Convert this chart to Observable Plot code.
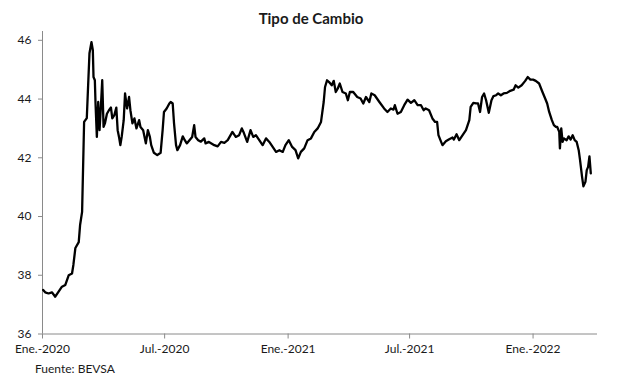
<!DOCTYPE html>
<html><head><meta charset="utf-8">
<script src="https://cdn.jsdelivr.net/npm/d3@7"></script>
<script src="https://cdn.jsdelivr.net/npm/@observablehq/plot@0.6"></script>
<style>
body{margin:0;background:#fff;}
#wrap{position:relative;width:617px;height:384px;font-family:Lato,sans-serif;color:#1a1a1a;}
#chart{position:absolute;left:0;top:0;}
#title{position:absolute;left:0;width:622px;top:9px;text-align:center;font-weight:bold;font-size:15px;}
#caption{position:absolute;left:35px;top:361px;font-size:12px;}
</style></head><body>
<div id="wrap"><div id="chart"></div><div id="title">Tipo de Cambio</div><div id="caption">Fuente: BEVSA</div></div>
<script>
const fechas = ["2020-01-02","2020-01-05","2020-01-10","2020-01-15","2020-01-20","2020-01-25","2020-01-30","2020-02-04","2020-02-09","2020-02-14","2020-02-16","2020-02-19","2020-02-24","2020-02-26","2020-02-29",
"2020-03-03","2020-03-07","2020-03-09","2020-03-11","2020-03-14","2020-03-16","2020-03-17","2020-03-19","2020-03-20","2020-03-22","2020-03-24","2020-03-26","2020-03-28","2020-03-30",
"2020-04-01","2020-04-03","2020-04-06","2020-04-09","2020-04-12","2020-04-14","2020-04-17","2020-04-20","2020-04-22","2020-04-24","2020-04-26","2020-04-28",
"2020-05-01","2020-05-03","2020-05-06","2020-05-09","2020-05-11","2020-05-14","2020-05-17","2020-05-20","2020-05-24","2020-05-26","2020-05-30",
"2020-06-03","2020-06-06","2020-06-09","2020-06-11","2020-06-15","2020-06-20","2020-06-25","2020-06-28","2020-06-30",
"2020-07-04","2020-07-08","2020-07-10","2020-07-13","2020-07-15","2020-07-18","2020-07-20","2020-07-24","2020-07-28","2020-07-31",
"2020-08-03","2020-08-07","2020-08-11","2020-08-14","2020-08-16","2020-08-20","2020-08-24","2020-08-29","2020-08-31",
"2020-09-05","2020-09-13","2020-09-18","2020-09-23","2020-09-28",
"2020-10-03","2020-10-10","2020-10-15","2020-10-20","2020-10-24","2020-10-27",
"2020-11-01","2020-11-06","2020-11-10","2020-11-14","2020-11-19","2020-11-24","2020-11-29",
"2020-12-04","2020-12-09","2020-12-14","2020-12-19","2020-12-24","2020-12-28",
"2021-01-02","2021-01-07","2021-01-12","2021-01-16","2021-01-20","2021-01-25","2021-01-30",
"2021-02-04","2021-02-09","2021-02-14","2021-02-19","2021-02-23","2021-02-25","2021-02-28",
"2021-03-03","2021-03-07","2021-03-10","2021-03-13","2021-03-16","2021-03-19","2021-03-23","2021-03-28","2021-03-31",
"2021-04-03","2021-04-08","2021-04-14","2021-04-19","2021-04-23","2021-04-27",
"2021-05-02","2021-05-05","2021-05-10","2021-05-17","2021-05-24","2021-05-29",
"2021-06-03","2021-06-07","2021-06-09","2021-06-13","2021-06-18","2021-06-23","2021-06-28",
"2021-07-03","2021-07-08","2021-07-13","2021-07-18","2021-07-22","2021-07-25","2021-07-30",
"2021-08-04","2021-08-08","2021-08-11","2021-08-13","2021-08-17","2021-08-19","2021-08-24","2021-08-29",
"2021-09-03","2021-09-05","2021-09-09","2021-09-13","2021-09-18","2021-09-23","2021-09-28","2021-09-30",
"2021-10-04","2021-10-08","2021-10-11","2021-10-14","2021-10-17","2021-10-20","2021-10-23","2021-10-27","2021-10-31",
"2021-11-03","2021-11-07","2021-11-10","2021-11-14","2021-11-18","2021-11-23","2021-11-28",
"2021-12-03","2021-12-06","2021-12-10","2021-12-15","2021-12-20","2021-12-24","2021-12-28",
"2022-01-01","2022-01-05","2022-01-10","2022-01-15","2022-01-19","2022-01-22","2022-01-25","2022-01-29",
"2022-02-01","2022-02-04","2022-02-06","2022-02-09","2022-02-10","2022-02-12","2022-02-14","2022-02-16","2022-02-20","2022-02-23","2022-02-26",
"2022-03-01","2022-03-04","2022-03-07","2022-03-10","2022-03-12","2022-03-15","2022-03-17","2022-03-20","2022-03-22","2022-03-24","2022-03-26","2022-03-28"];
const valores = [37.50,37.42,37.38,37.42,37.27,37.44,37.61,37.67,38.0,38.06,38.35,38.93,39.13,39.71,40.16,
43.22,43.35,44.47,45.56,45.94,45.66,44.75,44.64,43.86,42.71,43.9,42.94,43.74,44.64,
43.05,43.17,43.5,43.62,43.71,43.34,43.45,43.71,42.94,42.71,42.43,42.71,
43.28,44.19,43.68,44.07,43.62,43.17,43.34,43.0,43.28,43.05,42.94,
42.49,42.94,42.71,42.43,42.17,42.09,42.17,42.94,43.56,
43.68,43.85,43.9,43.85,43.17,42.43,42.26,42.43,42.73,42.6,
42.49,42.6,42.71,43.11,42.71,42.6,42.55,42.66,42.49,
42.54,42.43,42.39,42.54,42.51,
42.6,42.88,42.71,42.77,43.0,42.85,
42.54,42.94,42.71,42.77,42.6,42.43,42.66,
42.54,42.37,42.2,42.26,42.2,42.43,
42.6,42.37,42.26,41.98,42.2,42.32,42.6,
42.66,42.88,43.0,43.22,43.9,44.41,44.64,
44.58,44.47,44.62,44.24,44.36,44.53,44.24,44.19,43.96,
44.24,44.24,44.07,44.02,43.85,44.07,
43.9,44.19,44.13,43.9,43.68,43.56,
43.68,43.64,43.79,43.5,43.56,43.79,43.98,
43.87,43.96,43.79,43.79,43.62,43.68,43.62,
43.34,43.22,43.22,42.77,42.54,42.43,42.56,42.63,
42.69,42.62,42.8,42.6,42.77,42.94,43.28,43.73,
43.87,43.85,43.85,43.56,44.07,44.19,43.96,43.53,43.96,
44.1,44.13,44.19,44.13,44.19,44.21,44.28,
44.32,44.47,44.39,44.47,44.61,44.75,44.66,
44.66,44.62,44.53,44.24,44.02,43.85,43.56,43.28,
43.11,43.05,43.05,42.88,42.32,43.0,42.54,42.66,42.6,42.73,42.62,
42.77,42.6,42.54,42.26,41.92,41.35,41.03,41.18,41.58,41.69,42.05,41.47];
const ticksY = [36, 38, 40, 42, 44, 46];
const ticksX = ["2020-01-01", "2020-07-01", "2021-01-01", "2021-07-01", "2022-01-01"];
const etiquetasX = ["Ene.-2020", "Jul.-2020", "Ene.-2021", "Jul.-2021", "Ene.-2022"];
const dominioX = ["2020-01-01", "2022-04-07"];
const dominioY = [36, 46.3];

const data = fechas.map((f, i) => ({fecha: new Date(f), valor: valores[i]}));
const tickDates = ticksX.map(t => new Date(t));
const axisColor = "#8a8a8a";
const textColor = "#1a1a1a";

const chart = Plot.plot({
  width: 617, height: 384,
  marginLeft: 42, marginRight: 20, marginTop: 31, marginBottom: 50.5,
  x: {type: "utc", domain: dominioX.map(d => new Date(d))},
  y: {domain: dominioY},
  style: {fontFamily: "Lato, sans-serif", fontSize: "12px", background: "#fff", color: textColor},
  marks: [
    Plot.ruleX([new Date(dominioX[0])], {stroke: axisColor, strokeWidth: 1}),
    Plot.ruleY([dominioY[0]], {stroke: axisColor, strokeWidth: 1}),
    Plot.axisY(ticksY, {anchor: "left", tickSize: 4, tickPadding: 7, stroke: axisColor, fill: textColor, label: null, fontSize: 12}),
    Plot.axisX(tickDates, {anchor: "bottom", tickSize: 5, tickPadding: 5, stroke: axisColor, fill: textColor, label: null, fontSize: 12,
      tickFormat: d => etiquetasX[tickDates.findIndex(t => +t === +d)]}),
    Plot.lineY(data, {x: "fecha", y: "valor", stroke: "#000", strokeWidth: 2.3, strokeLinejoin: "round"})
  ]
});
document.getElementById("chart").appendChild(chart);
</script>
</body></html>
